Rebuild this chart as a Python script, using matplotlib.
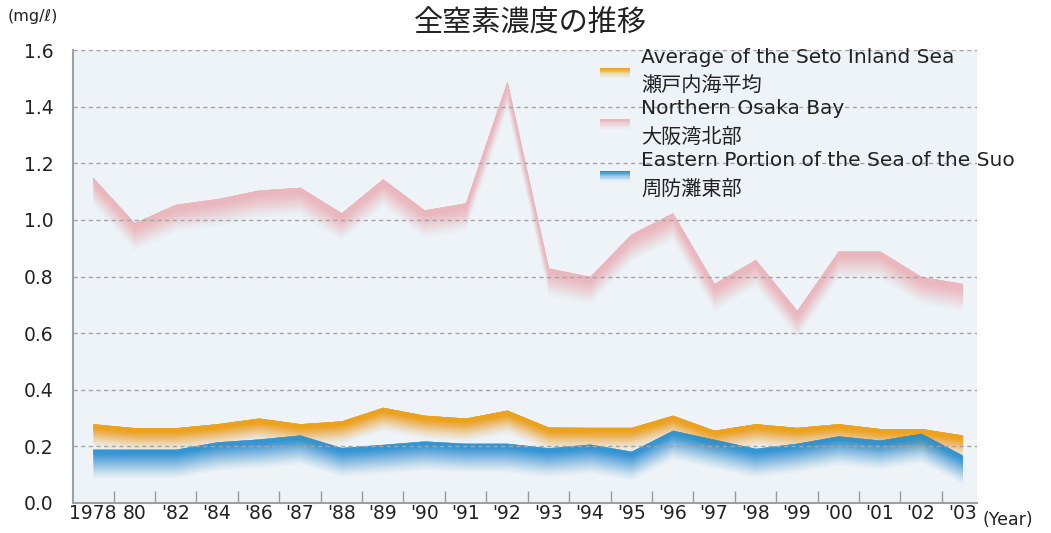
import matplotlib
matplotlib.use('Agg')
import matplotlib.pyplot as plt
import numpy as np
from matplotlib.legend_handler import HandlerBase
from matplotlib.patches import Rectangle, Patch

plt.rcParams['font.family'] = ['DejaVu Sans', 'Noto Sans CJK JP']

years = ['1978', '80', "'82", "'84", "'86", "'87", "'88", "'89", "'90", "'91", "'92",
         "'93", "'94", "'95", "'96", "'97", "'98", "'99", "'00", "'01", "'02", "'03"]
osaka = [1.15, 0.99, 1.055, 1.075, 1.105, 1.115, 1.025, 1.145, 1.035, 1.06, 1.49,
         0.83, 0.80, 0.95, 1.025, 0.775, 0.86, 0.68, 0.89, 0.89, 0.80, 0.775]
seto = [0.28, 0.266, 0.266, 0.28, 0.30, 0.28, 0.29, 0.338, 0.31, 0.30, 0.328,
        0.268, 0.267, 0.267, 0.31, 0.257, 0.28, 0.267, 0.28, 0.263, 0.263, 0.24]
suo = [0.19, 0.19, 0.19, 0.216, 0.226, 0.24, 0.196, 0.207, 0.219, 0.211, 0.211,
       0.195, 0.208, 0.183, 0.257, 0.225, 0.193, 0.211, 0.237, 0.222, 0.246, 0.169]
labels = ['Average of the Seto Inland Sea\n瀬戸内海平均',
          'Northern Osaka Bay\n大阪湾北部',
          'Eastern Portion of the Sea of the Suo\n周防灘東部']
colors = ['#eca21c', '#eab6bd', '#2590d2']

fig = plt.figure(figsize=(10.51, 5.33), dpi=100)
ax = fig.add_axes([73/1051, 1-503/533, (977-73)/1051, (503-50)/533])
ax.set_facecolor('#eef3f8')

x = np.arange(len(years))


def profile(t, solid=0.15, power=1.6):
    t = np.asarray(t, dtype=float)
    return np.where(t < solid, 1.0, np.clip((1 - t) / (1 - solid), 0, 1) ** power)


def ribbon(ax, x, y, color, depth, n=40, solid=0.15, power=1.6, top=1.0, z=1):
    """Stacked translucent fills whose combined opacity follows profile()."""
    y = np.asarray(y, dtype=float)
    t = np.arange(1, n + 1) / n
    f = top * profile(t - 0.5 / n, solid, power)
    f = np.append(f, 0.0)
    for k in range(n - 1, -1, -1):
        a = 1 - (1 - f[k]) / (1 - f[k + 1]) if f[k + 1] < 1 else 0.0
        a = float(np.clip(a, 0, 1))
        if a <= 0:
            continue
        ax.fill_between(x, y, y - depth * t[k], color=color, alpha=a, linewidth=0, zorder=z)


ribbon(ax, x, osaka, colors[1], 0.10, solid=0.12, power=1.4, top=0.95, z=1)
ribbon(ax, x, seto, colors[0], 0.085, solid=0.14, power=1.4, z=1.2)
ribbon(ax, x, suo, colors[2], 0.105, solid=0.12, power=1.3, top=0.9, z=1.4)

ax.set_xlim(-0.48, 21.35)
ax.set_ylim(0, 1.6)
ax.set_yticks(np.arange(0, 1.61, 0.2))
ax.set_yticklabels([f'{v:.1f}' for v in np.arange(0, 1.61, 0.2)], fontsize=13.5, color='#222222')
ax.tick_params(axis='y', length=0, pad=14)
ax.set_xticks(np.arange(len(years) - 1) + 0.5)
ax.set_xticklabels([])
ax.set_xticks(x, minor=True)
ax.set_xticklabels(years, minor=True, fontsize=13.5, color='#222222')
ax.tick_params(axis='x', which='major', direction='in', length=9, width=1, color='#9a9a9a')
ax.tick_params(axis='x', which='minor', length=0, pad=1)
ax.yaxis.grid(True, linestyle=(0, (3, 2.5)), color='#a4a4a4', lw=1, zorder=3)
ax.set_axisbelow(False)
for s in ['top', 'right']:
    ax.spines[s].set_visible(False)
for s in ['left', 'bottom']:
    ax.spines[s].set_color('#a0a0a0')
    ax.spines[s].set_linewidth(1.5)


class GradHandler(HandlerBase):
    def create_artists(self, legend, orig_handle, xdescent, ydescent, width, height, fontsize, trans):
        c = orig_handle.get_facecolor()
        arts = []
        n = 8
        h = height * 0.75
        top = -ydescent + height * 0.8
        for k in range(n):
            r = Rectangle((-xdescent, top - h * (k + 1) / n), width, h / n,
                          facecolor=c, alpha=max(0.0, 1 - k / n) ** 1.5, lw=0, transform=trans)
            arts.append(r)
        return arts


handles = [Patch(facecolor=c) for c in colors]
leg = fig.legend(handles, labels, loc='upper left', bbox_to_anchor=(600/1051, 1-48/533),
                 frameon=False, fontsize=14.5, handlelength=1.5, handletextpad=0.55,
                 labelspacing=0.2, borderaxespad=0, borderpad=0,
                 handler_map={h: GradHandler() for h in handles})
for t in leg.get_texts():
    t.set_color('#222222')
    t.set_linespacing(1.62)

fig.text(530/1051, 1-24/533, '全窒素濃度の推移', ha='center', va='center', fontsize=21, color='#222222')
fig.text(8/1051, 1-17/533, '(mg/ℓ)', ha='left', va='center', fontsize=11.5, color='#222222')
fig.text(983/1051, 1-520/533, '(Year)', ha='left', va='center', fontsize=12.5, color='#222222')

fig.savefig('out.png', dpi=100, facecolor='white')
